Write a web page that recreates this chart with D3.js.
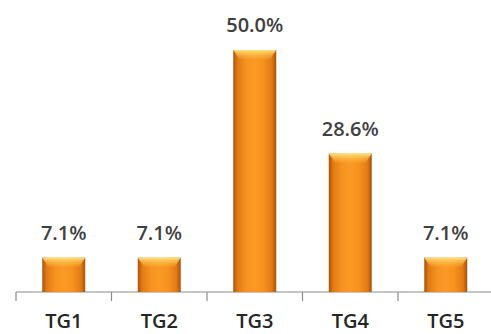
<!DOCTYPE html>
<html><head><meta charset="utf-8">
<script src="https://cdn.jsdelivr.net/npm/d3@7"></script>
<style>body{margin:0;background:#fff}svg{display:block}</style>
</head><body>
<script>
const categories = ["TG1","TG2","TG3","TG4","TG5"];
const values = [7.1, 7.1, 50.0, 28.6, 7.1];
const labels = ["7.1%","7.1%","50.0%","28.6%","7.1%"];

const W = 491, H = 334;
const svg = d3.select("body").append("svg").attr("width", W).attr("height", H);
const defs = svg.append("defs");
const g1 = defs.append("linearGradient").attr("id","side").attr("x1","0").attr("x2","1").attr("y1","0").attr("y2","0");
[[0,"#a9520c"],[0.1,"#e07a14"],[0.3,"#f7921f"],[0.5,"#fa9a26"],[0.7,"#f7921f"],[0.9,"#e07a14"],[1,"#a9520c"]]
  .forEach(([o,c]) => g1.append("stop").attr("offset", o).attr("stop-color", c));
const g2 = defs.append("linearGradient").attr("id","top").attr("x1","0").attr("x2","0").attr("y1","0").attr("y2","1");
[[0,"#ffe27a",1],[1,"#ffb640",0.2]].forEach(([o,c,a]) => g2.append("stop").attr("offset",o).attr("stop-color",c).attr("stop-opacity",a));

const axisY = 292;
const x = d3.scaleBand().domain(categories).range([16, 493.5]).padding(0);
const y = d3.scaleLinear().domain([0, 50]).range([axisY, 50]);
const bw = x.bandwidth() * 0.45;

// axis
svg.append("line").attr("x1", x.range()[0]).attr("x2", W).attr("y1", axisY).attr("y2", axisY)
  .attr("stroke", "#8c8c8c").attr("stroke-width", 1.2);
const tickXs = categories.map(c => x(c)).concat([x.range()[1]]);
svg.selectAll(".tick").data(tickXs).join("line")
  .attr("x1", d => d).attr("x2", d => d).attr("y1", axisY).attr("y2", axisY + 9)
  .attr("stroke", "#8c8c8c").attr("stroke-width", 1.2);

const bars = svg.selectAll(".bar").data(categories).join("g");
bars.append("rect")
  .attr("x", d => x(d) + (x.bandwidth() - bw) / 2)
  .attr("y", (d,i) => y(values[i]))
  .attr("width", bw)
  .attr("height", (d,i) => axisY - y(values[i]))
  .attr("fill", "url(#side)");
bars.append("path")
  .attr("d", (d,i) => {
    const x0 = x(d) + (x.bandwidth() - bw) / 2, t = y(values[i]), h = 9, ins = 6;
    return `M${x0},${t}L${x0+bw},${t}L${x0+bw-ins},${t+h}L${x0+ins},${t+h}Z`;
  })
  .attr("fill", "url(#top)");

svg.selectAll(".val").data(categories).join("text")
  .attr("x", d => x(d) + x.bandwidth() / 2)
  .attr("y", (d,i) => y(values[i]) - 18)
  .attr("text-anchor", "middle")
  .attr("font-family", "Open Sans, sans-serif").attr("font-size", 20).attr("font-weight", 600)
  .attr("fill", "#404040")
  .text((d,i) => labels[i]);

svg.selectAll(".cat").data(categories).join("text")
  .attr("x", d => x(d) + x.bandwidth() / 2)
  .attr("y", 328)
  .attr("text-anchor", "middle")
  .attr("font-family", "Open Sans, sans-serif").attr("font-size", 20).attr("font-weight", 600)
  .attr("fill", "#262626")
  .text(d => d);
</script>
</body></html>
